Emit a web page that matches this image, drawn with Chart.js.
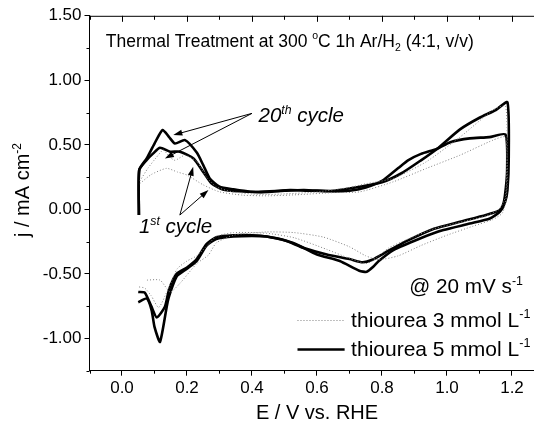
<!DOCTYPE html>
<html>
<head>
<meta charset="utf-8">
<script src="https://cdn.jsdelivr.net/npm/chart.js@4.4.1/dist/chart.umd.min.js"></script>
<style>
  html, body { margin: 0; padding: 0; background: #fff; }
  canvas { display: block; }
</style>
</head>
<body>
<canvas id="cvCanvas" width="534" height="425"></canvas>
<script>
// E in V vs. RHE, j in mA cm-2 (anodic sweep, then cathodic sweep)
const c5n20E = [0.052, 0.053, 0.076, 0.100, 0.125, 0.145, 0.163, 0.194, 0.230, 0.250, 0.270, 0.300, 0.343, 0.394, 0.450, 0.517, 0.578, 0.650, 0.732, 0.800, 0.860, 0.920, 0.970, 1.040, 1.100, 1.150, 1.186,
  1.190, 1.186, 1.178, 1.163, 1.132, 1.070, 0.989, 0.917, 0.835, 0.790, 0.773, 0.753, 0.730, 0.670, 0.600, 0.527, 0.445, 0.400, 0.343, 0.290, 0.260, 0.230, 0.200, 0.168, 0.142, 0.117, 0.100, 0.091, 0.076, 0.050];
const c5n20J = [-0.044, 0.305, 0.395, 0.510, 0.615, 0.560, 0.510, 0.537, 0.440, 0.343, 0.240, 0.175, 0.155, 0.137, 0.135, 0.150, 0.144, 0.144, 0.175, 0.210, 0.280, 0.380, 0.470, 0.620, 0.710, 0.770, 0.830,
  0.400, 0.150, 0.050, -0.018, -0.070, -0.110, -0.160, -0.225, -0.315, -0.400, -0.445, -0.484, -0.475, -0.400, -0.350, -0.260, -0.210, -0.205, -0.210, -0.230, -0.280, -0.400, -0.460, -0.520, -0.700, -1.026, -0.910, -0.780, -0.690, -0.720];

const c5n1E = [0.052, 0.053, 0.075, 0.096, 0.117, 0.148, 0.178, 0.220, 0.250, 0.276, 0.310, 0.360, 0.420, 0.500, 0.560, 0.640, 0.700, 0.750, 0.800, 0.850, 0.880, 0.920, 0.970, 1.010, 1.070, 1.130, 1.180,
  1.185, 1.178, 1.172, 1.160, 1.120, 1.040, 0.960, 0.880, 0.820, 0.770, 0.740, 0.700, 0.630, 0.560, 0.500, 0.445, 0.400, 0.343, 0.290, 0.260, 0.230, 0.200, 0.168, 0.145, 0.132, 0.107, 0.090, 0.070, 0.050];
const c5n1J = [-0.044, 0.305, 0.380, 0.434, 0.478, 0.447, 0.447, 0.395, 0.290, 0.200, 0.155, 0.140, 0.135, 0.145, 0.150, 0.140, 0.145, 0.170, 0.220, 0.320, 0.380, 0.430, 0.470, 0.520, 0.550, 0.560, 0.580,
  0.300, 0.100, 0.033, -0.010, -0.044, -0.096, -0.150, -0.240, -0.320, -0.390, -0.410, -0.385, -0.350, -0.300, -0.240, -0.210, -0.200, -0.200, -0.215, -0.270, -0.385, -0.450, -0.500, -0.620, -0.755, -0.837, -0.750, -0.645, -0.640];

const c3n20E = [0.055, 0.080, 0.105, 0.127, 0.145, 0.163, 0.194, 0.230, 0.260, 0.290, 0.340, 0.425, 0.500, 0.600, 0.700, 0.753, 0.835, 0.937, 1.040, 1.142, 1.180,
  1.185, 1.180, 1.160, 1.120, 1.040, 0.960, 0.880, 0.820, 0.770, 0.750, 0.700, 0.630, 0.530, 0.445, 0.343, 0.290, 0.266, 0.230, 0.200, 0.170, 0.145, 0.113, 0.090, 0.070, 0.050];
const c3n20J = [0.220, 0.320, 0.400, 0.460, 0.410, 0.380, 0.420, 0.370, 0.250, 0.175, 0.136, 0.115, 0.120, 0.135, 0.170, 0.200, 0.240, 0.370, 0.560, 0.770, 0.800,
  0.400, 0.100, 0.000, -0.050, -0.100, -0.150, -0.230, -0.300, -0.400, -0.420, -0.380, -0.310, -0.220, -0.185, -0.180, -0.210, -0.270, -0.360, -0.400, -0.460, -0.600, -0.760, -0.670, -0.610, -0.600];

const c3n1E = [0.055, 0.090, 0.137, 0.170, 0.200, 0.250, 0.300, 0.373, 0.450, 0.550, 0.650, 0.732, 0.835, 0.937, 1.040, 1.142, 1.180,
  1.185, 1.180, 1.170, 1.140, 1.080, 1.000, 0.920, 0.850, 0.790, 0.750, 0.700, 0.620, 0.530, 0.445, 0.343, 0.290, 0.266, 0.230, 0.178, 0.148, 0.117, 0.076, 0.055];
const c3n1J = [0.200, 0.270, 0.318, 0.290, 0.266, 0.190, 0.136, 0.110, 0.105, 0.115, 0.130, 0.136, 0.214, 0.318, 0.420, 0.537, 0.560,
  0.200, 0.050, -0.030, -0.080, -0.130, -0.200, -0.280, -0.360, -0.390, -0.360, -0.290, -0.215, -0.180, -0.175, -0.200, -0.260, -0.354, -0.420, -0.574, -0.640, -0.548, -0.548];

const xTicks = [0, 0.2, 0.4, 0.6, 0.8, 1.0, 1.2];
const xMinor = [-0.1, 0.1, 0.3, 0.5, 0.7, 0.9, 1.1];
const yTicks = [-1.0, -0.5, 0, 0.5, 1.0, 1.5];
const yMinor = [-1.25, -0.75, -0.25, 0.25, 0.75, 1.25];

const FONT = '"Liberation Sans", Arial, sans-serif';
const thin = { color: '#808080', width: 1, dash: [1, 2] };
const thick = { color: '#000', width: 2.6, dash: [] };

function pts(xs, ys) {
  return xs.map((x, i) => ({ x: x, y: ys[i] }));
}

function series(label, xs, ys, st) {
  return {
    label: label,
    data: pts(xs, ys),
    showLine: true,
    borderColor: st.color,
    borderWidth: st.width,
    borderDash: st.dash,
    pointRadius: 0,
    tension: 0.2,
    fill: false
  };
}

// text with super/subscripts, parts = [[text, 'sup'|'sub'|'']]
function richWidth(ctx, parts, size, style) {
  let w = 0;
  parts.forEach(p => {
    const s = p[1] ? size * 0.6 : size;
    ctx.font = style + ' ' + s + 'px ' + FONT;
    w += ctx.measureText(p[0]).width;
  });
  return w;
}

function drawRich(ctx, parts, x, y, size, style) {
  let cx = x;
  ctx.textAlign = 'left';
  ctx.textBaseline = 'alphabetic';
  parts.forEach(p => {
    const s = p[1] ? size * 0.6 : size;
    ctx.font = style + ' ' + s + 'px ' + FONT;
    const dy = p[1] === 'sup' ? -size * 0.42 : (p[1] === 'sub' ? size * 0.25 : 0);
    ctx.fillText(p[0], cx, y + dy);
    cx += ctx.measureText(p[0]).width;
  });
}

function arrow(ctx, x0, y0, x1, y1) {
  const a = Math.atan2(y1 - y0, x1 - x0);
  const L = 9, W = 3;
  ctx.beginPath();
  ctx.moveTo(x0, y0);
  ctx.lineTo(x1 - Math.cos(a) * L * 0.8, y1 - Math.sin(a) * L * 0.8);
  ctx.stroke();
  ctx.beginPath();
  ctx.moveTo(x1, y1);
  ctx.lineTo(x1 - Math.cos(a) * L - Math.sin(a) * W, y1 - Math.sin(a) * L + Math.cos(a) * W);
  ctx.lineTo(x1 - Math.cos(a) * L + Math.sin(a) * W, y1 - Math.sin(a) * L - Math.cos(a) * W);
  ctx.closePath();
  ctx.fill();
}

const extras = {
  id: 'extras',
  afterDraw(chart) {
    const ctx = chart.ctx;
    const xs = chart.scales.x, ys = chart.scales.y;
    const area = chart.chartArea;
    const X = v => xs.getPixelForValue(v), Y = v => ys.getPixelForValue(v);
    ctx.save();
    ctx.strokeStyle = '#000';
    ctx.fillStyle = '#000';
    ctx.lineWidth = 1;

    // top frame with inward ticks
    ctx.beginPath();
    ctx.moveTo(area.left, area.top + 0.5);
    ctx.lineTo(area.right, area.top + 0.5);
    xTicks.forEach(v => { ctx.moveTo(Math.round(X(v)) + 0.5, area.top); ctx.lineTo(Math.round(X(v)) + 0.5, area.top + 6); });
    xMinor.forEach(v => { ctx.moveTo(Math.round(X(v)) + 0.5, area.top); ctx.lineTo(Math.round(X(v)) + 0.5, area.top + 4); });
    // minor outward ticks
    xMinor.forEach(v => { ctx.moveTo(Math.round(X(v)) + 0.5, area.bottom); ctx.lineTo(Math.round(X(v)) + 0.5, area.bottom + 3); });
    yMinor.forEach(v => { ctx.moveTo(area.left, Math.round(Y(v)) + 0.5); ctx.lineTo(area.left - 3, Math.round(Y(v)) + 0.5); });
    ctx.stroke();

    // title inside the frame
    drawRich(ctx, [['Thermal Treatment at 300 ', ''], ['o', 'sup'], ['C 1h Ar/H', ''], ['2', 'sub'], [' (4:1, v/v)', '']],
      X(-0.05), Y(1.262), 17.5, '');

    // cycle labels and arrows
    drawRich(ctx, [['20', ''], ['th', 'sup'], [' cycle', '']], X(0.42), Y(0.674), 20.5, 'italic');
    ctx.lineWidth = 1;
    arrow(ctx, X(0.40), Y(0.744), X(0.158), Y(0.576));
    arrow(ctx, X(0.40), Y(0.744), X(0.132), Y(0.395));
    drawRich(ctx, [['1', ''], ['st', 'sup'], [' cycle', '']], X(0.052), Y(-0.186), 20.5, 'italic');
    arrow(ctx, X(0.178), Y(-0.044), X(0.219), Y(0.33));
    arrow(ctx, X(0.178), Y(-0.044), X(0.266), Y(0.15));

    // scan rate + legend
    drawRich(ctx, [['@ 20 mV s', ''], ['-1', 'sup']], X(0.884), Y(-0.651), 20.7, '');
    const ds = chart.data.datasets;
    [[ds[0], -0.91], [ds[2], -1.135]].forEach(([d, yb]) => {
      const ly = Math.round(Y(yb) - 7) + 0.5;
      ctx.strokeStyle = d.borderColor;
      ctx.lineWidth = d.borderWidth;
      ctx.setLineDash(d.borderDash);
      ctx.beginPath();
      ctx.moveTo(X(0.54), ly);
      ctx.lineTo(X(0.685), ly);
      ctx.stroke();
      ctx.setLineDash([]);
      drawRich(ctx, [[d.label.replace(' L-1', ' L'), ''], ['-1', 'sup']], X(0.705), Y(yb), 21, '');
    });

    // axis titles
    const xt = [['E / V vs. RHE', '']];
    drawRich(ctx, xt, X(0.6) - richWidth(ctx, xt, 20, '') / 2, chart.height - 6, 20, '');
    const yt = [['j / mA cm', ''], ['-2', 'sup']];
    ctx.translate(29, Y(0.15));
    ctx.rotate(-Math.PI / 2);
    drawRich(ctx, yt, -richWidth(ctx, yt, 20, '') / 2, 0, 20, '');
    ctx.restore();
  }
};

new Chart(document.getElementById('cvCanvas').getContext('2d'), {
  type: 'scatter',
  data: {
    datasets: [
      series('thiourea 3 mmol L-1', c3n1E, c3n1J, thin),
      series('thiourea 3 mmol L-1 (20th)', c3n20E, c3n20J, thin),
      series('thiourea 5 mmol L-1', c5n1E, c5n1J, thick),
      series('thiourea 5 mmol L-1 (20th)', c5n20E, c5n20J, thick)
    ]
  },
  options: {
    responsive: false,
    animation: false,
    devicePixelRatio: 1,
    layout: { padding: { top: 15.8, right: 0, left: 0, bottom: 0 } },
    plugins: { legend: { display: false }, tooltip: { enabled: false } },
    scales: {
      x: {
        type: 'linear',
        min: -0.1,
        max: 1.2677,
        afterBuildTicks: s => { s.ticks = xTicks.map(v => ({ value: v })); },
        afterFit: s => { s.height = 425 - 370.7; },
        ticks: { callback: v => v.toFixed(1), color: '#000', font: { family: FONT, size: 17 }, padding: 2, maxRotation: 0 },
        grid: { drawOnChartArea: false, color: '#000', tickLength: 5 },
        border: { color: '#000', width: 1 }
      },
      y: {
        type: 'linear',
        min: -1.25,
        max: 1.5,
        afterBuildTicks: s => { s.ticks = yTicks.map(v => ({ value: v })); },
        afterFit: s => { s.width = 89.5; },
        ticks: { callback: v => v.toFixed(2), color: '#000', font: { family: FONT, size: 17 }, padding: 3 },
        grid: { drawOnChartArea: false, color: '#000', tickLength: 5 },
        border: { color: '#000', width: 1 }
      }
    }
  },
  plugins: [extras]
});
</script>
</body>
</html>
